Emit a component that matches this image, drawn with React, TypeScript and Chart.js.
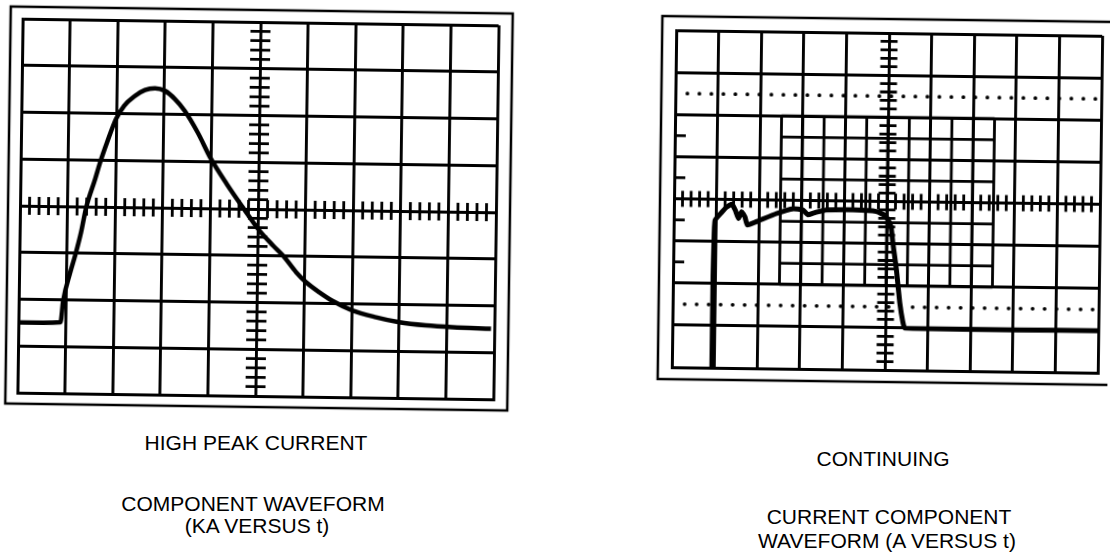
import React, { useEffect, useRef } from "react";
import { Chart, registerables } from "chart.js";
Chart.register(...registerables);

// ---- Left trace: high peak current component (screen divisions) ----
const peakTime = [0, 0.885, 0.935, 1.075, 1.18, 1.29, 1.39, 1.57, 1.67, 1.81, 1.99, 2.16, 2.38, 2.59, 2.8, 3.01, 3.22, 3.43, 3.71, 3.99, 4.34, 4.73, 5.01, 5.33, 5.54, 5.82, 6.03, 6.31, 6.59, 7.01, 7.51, 8.0, 8.56, 9.12, 9.93];
const peakKA = [-2.5, -2.48, -2.02, -1.41, -1.02, -0.55, -0.02, 0.59, 0.95, 1.38, 1.88, 2.17, 2.38, 2.51, 2.55, 2.5, 2.33, 2.08, 1.62, 1.07, 0.52, -0.04, -0.43, -0.78, -0.99, -1.34, -1.55, -1.76, -1.94, -2.14, -2.28, -2.38, -2.44, -2.47, -2.49];

// ---- Right trace: continuing current component (screen divisions) ----
const contTime = [0.94, 0.94, 0.95, 0.97, 1.13, 1.24, 1.36, 1.44, 1.52, 1.59, 1.67, 1.73, 1.94, 2.41, 2.8, 3.03, 3.15, 3.27, 3.42, 3.58, 4.2, 4.75, 4.98, 5.1, 5.15, 5.24, 5.33, 5.41, 5.46, 10];
const contA = [-4, -1.83, -1.05, -0.5, -0.3, -0.18, -0.11, -0.25, -0.45, -0.29, -0.41, -0.6, -0.52, -0.32, -0.2, -0.23, -0.34, -0.3, -0.26, -0.22, -0.21, -0.24, -0.35, -0.59, -0.98, -1.6, -2.39, -2.86, -3.0, -3.0];

// dotted reference levels on the right screen
const refLevels = [2.5, -2.5];

// screen graticule
const xDivs = [0, 10];
const yDivs = [-4, 4];
const leftEdgeMarks = [1.5, 0.5, -0.5, -1.5];
const fineRegionX = [2.5, 7.5];
const fineRegionY = [-2, 2];

const scopePlugin = {
  id: "scope",
  beforeDatasetsDraw(chart: any, _args: any, opts: any) {
    const { ctx } = chart;
    const x = chart.scales.x;
    const y = chart.scales.y;
    ctx.save();
    ctx.strokeStyle = "#000";
    ctx.lineCap = "butt";
    // fine sub-grid
    if (opts.fine) {
      ctx.lineWidth = 2.8;
      const [fx0, fx1] = opts.fine.x;
      const [fy0, fy1] = opts.fine.y;
      ctx.beginPath();
      for (let v = fx0; v <= fx1 + 1e-6; v += 0.5) {
        const px = x.getPixelForValue(v);
        ctx.moveTo(px, y.getPixelForValue(fy1));
        ctx.lineTo(px, y.getPixelForValue(fy0));
      }
      for (let v = fy0; v <= fy1 + 1e-6; v += 0.5) {
        const py = y.getPixelForValue(v);
        ctx.moveTo(x.getPixelForValue(fx0), py);
        ctx.lineTo(x.getPixelForValue(fx1), py);
      }
      ctx.stroke();
    }
    // center axis ticks
    ctx.lineWidth = 2.8;
    ctx.beginPath();
    const cy = y.getPixelForValue(0);
    const cx = x.getPixelForValue(5);
    for (let i = 1; i < 50; i++) {
      if (i % 5 === 0) continue;
      const px = x.getPixelForValue(i * 0.2);
      ctx.moveTo(px, cy - opts.hTick);
      ctx.lineTo(px, cy + opts.hTick);
    }
    for (let i = 1; i < 40; i++) {
      if (i % 5 === 0) continue;
      const py = y.getPixelForValue(-4 + i * 0.2);
      ctx.moveTo(cx - opts.vTick, py);
      ctx.lineTo(cx + opts.vTick, py);
    }
    if (opts.edgeMarks) {
      const lx = chart.chartArea.left;
      for (const m of opts.edgeMarks) {
        const py = y.getPixelForValue(m);
        ctx.moveTo(lx, py);
        ctx.lineTo(lx + 11, py);
      }
    }
    ctx.stroke();
    ctx.restore();
  },
  afterDraw(chart: any, _args: any, opts: any) {
    const { ctx, chartArea: ca } = chart;
    const f = opts.frame;
    ctx.save();
    ctx.strokeStyle = "#000";
    ctx.lineWidth = 2.5;
    ctx.strokeRect(ca.left - f[0], ca.top - f[1], ca.right - ca.left + f[0] + f[2], ca.bottom - ca.top + f[1] + f[3]);
    ctx.restore();
  },
};

function makeConfig(datasets: any[], pad: any, scopeOpts: any) {
  const axis = (min: number, max: number) => ({
    type: "linear",
    min,
    max,
    ticks: { display: false, stepSize: 1 },
    grid: { color: "#000", lineWidth: 2.9, drawTicks: false },
    border: { display: true, color: "#000", width: 2.9 },
  });
  return {
    type: "line",
    data: { datasets },
    options: {
      animation: false,
      responsive: true,
      maintainAspectRatio: false,
      layout: { padding: pad },
      parsing: false,
      plugins: { legend: { display: false }, tooltip: { enabled: false }, scope: scopeOpts },
      elements: { point: { radius: 0 } },
      scales: { x: axis(xDivs[0], xDivs[1]), y: axis(yDivs[0], yDivs[1]) },
    },
    plugins: [scopePlugin],
  } as any;
}

function Scope({ config, style, origin }: any) {
  const ref = useRef<HTMLCanvasElement>(null);
  useEffect(() => {
    const chart = new Chart(ref.current as HTMLCanvasElement, config);
    return () => chart.destroy();
  }, []);
  return (
    <div style={{ position: "absolute", ...style, transformOrigin: origin }}>
      <canvas ref={ref} />
    </div>
  );
}

const caption = (text: string, cx: number, top: number) => (
  <div
    key={text}
    style={{
      position: "absolute",
      left: cx - 200,
      width: 400,
      top,
      textAlign: "center",
      fontSize: 21,
      lineHeight: "21px",
      whiteSpace: "nowrap",
    }}
  >
    {text}
  </div>
);

export default function App() {
  const leftCfg = makeConfig(
    [
      {
        data: peakTime.map((t, i) => ({ x: t, y: peakKA[i] })),
        borderColor: "#000",
        borderWidth: 4.5,
        cubicInterpolationMode: "monotone",
        fill: false,
      },
    ],
    { left: 20, top: 22, right: 24, bottom: 24 },
    { hTick: 9, vTick: 10, frame: [12, 12, 14, 11] }
  );
  const rightCfg = makeConfig(
    [
      {
        data: contTime.map((t, i) => ({ x: t, y: contA[i] })),
        borderColor: "#000",
        borderWidth: 5,
        tension: 0.15,
        fill: false,
      },
      ...refLevels.map((lv) => ({
        data: [
          { x: xDivs[0], y: lv },
          { x: xDivs[1], y: lv },
        ],
        borderColor: "#000",
        borderWidth: 3.8,
        borderDash: [0, 12],
        borderCapStyle: "round",
        fill: false,
      })),
    ],
    { left: 24, top: 33, right: 10, bottom: 30 },
    {
      hTick: 8,
      vTick: 8.5,
      frame: [14, 14, 30, 12],
      fine: { x: fineRegionX, y: fineRegionY },
      edgeMarks: leftEdgeMarks,
    }
  );
  return (
    <div
      style={{
        position: "fixed",
        left: 0,
        top: 0,
        width: 1110,
        height: 554,
        overflow: "hidden",
        background: "#fff",
        color: "#000",
        fontFamily: '"Liberation Sans", Arial, Helvetica, sans-serif',
      }}
    >
      <Scope config={leftCfg} style={{ left: 0, top: 0, width: 520, height: 420, transform: "rotate(0.8deg)" }} origin="258px 209px" />
      <Scope config={rightCfg} style={{ left: 650, top: 0, width: 460, height: 400, transform: "rotate(0.75deg)" }} origin="237px 202px" />
      {caption("HIGH PEAK CURRENT", 256, 431.5)}
      {caption("COMPONENT WAVEFORM", 253, 492.5)}
      {caption("(KA VERSUS t)", 257, 514.5)}
      {caption("CONTINUING", 883, 447.5)}
      {caption("CURRENT COMPONENT", 889, 505.5)}
      {caption("WAVEFORM (A VERSUS t)", 887, 529.5)}
    </div>
  );
}
